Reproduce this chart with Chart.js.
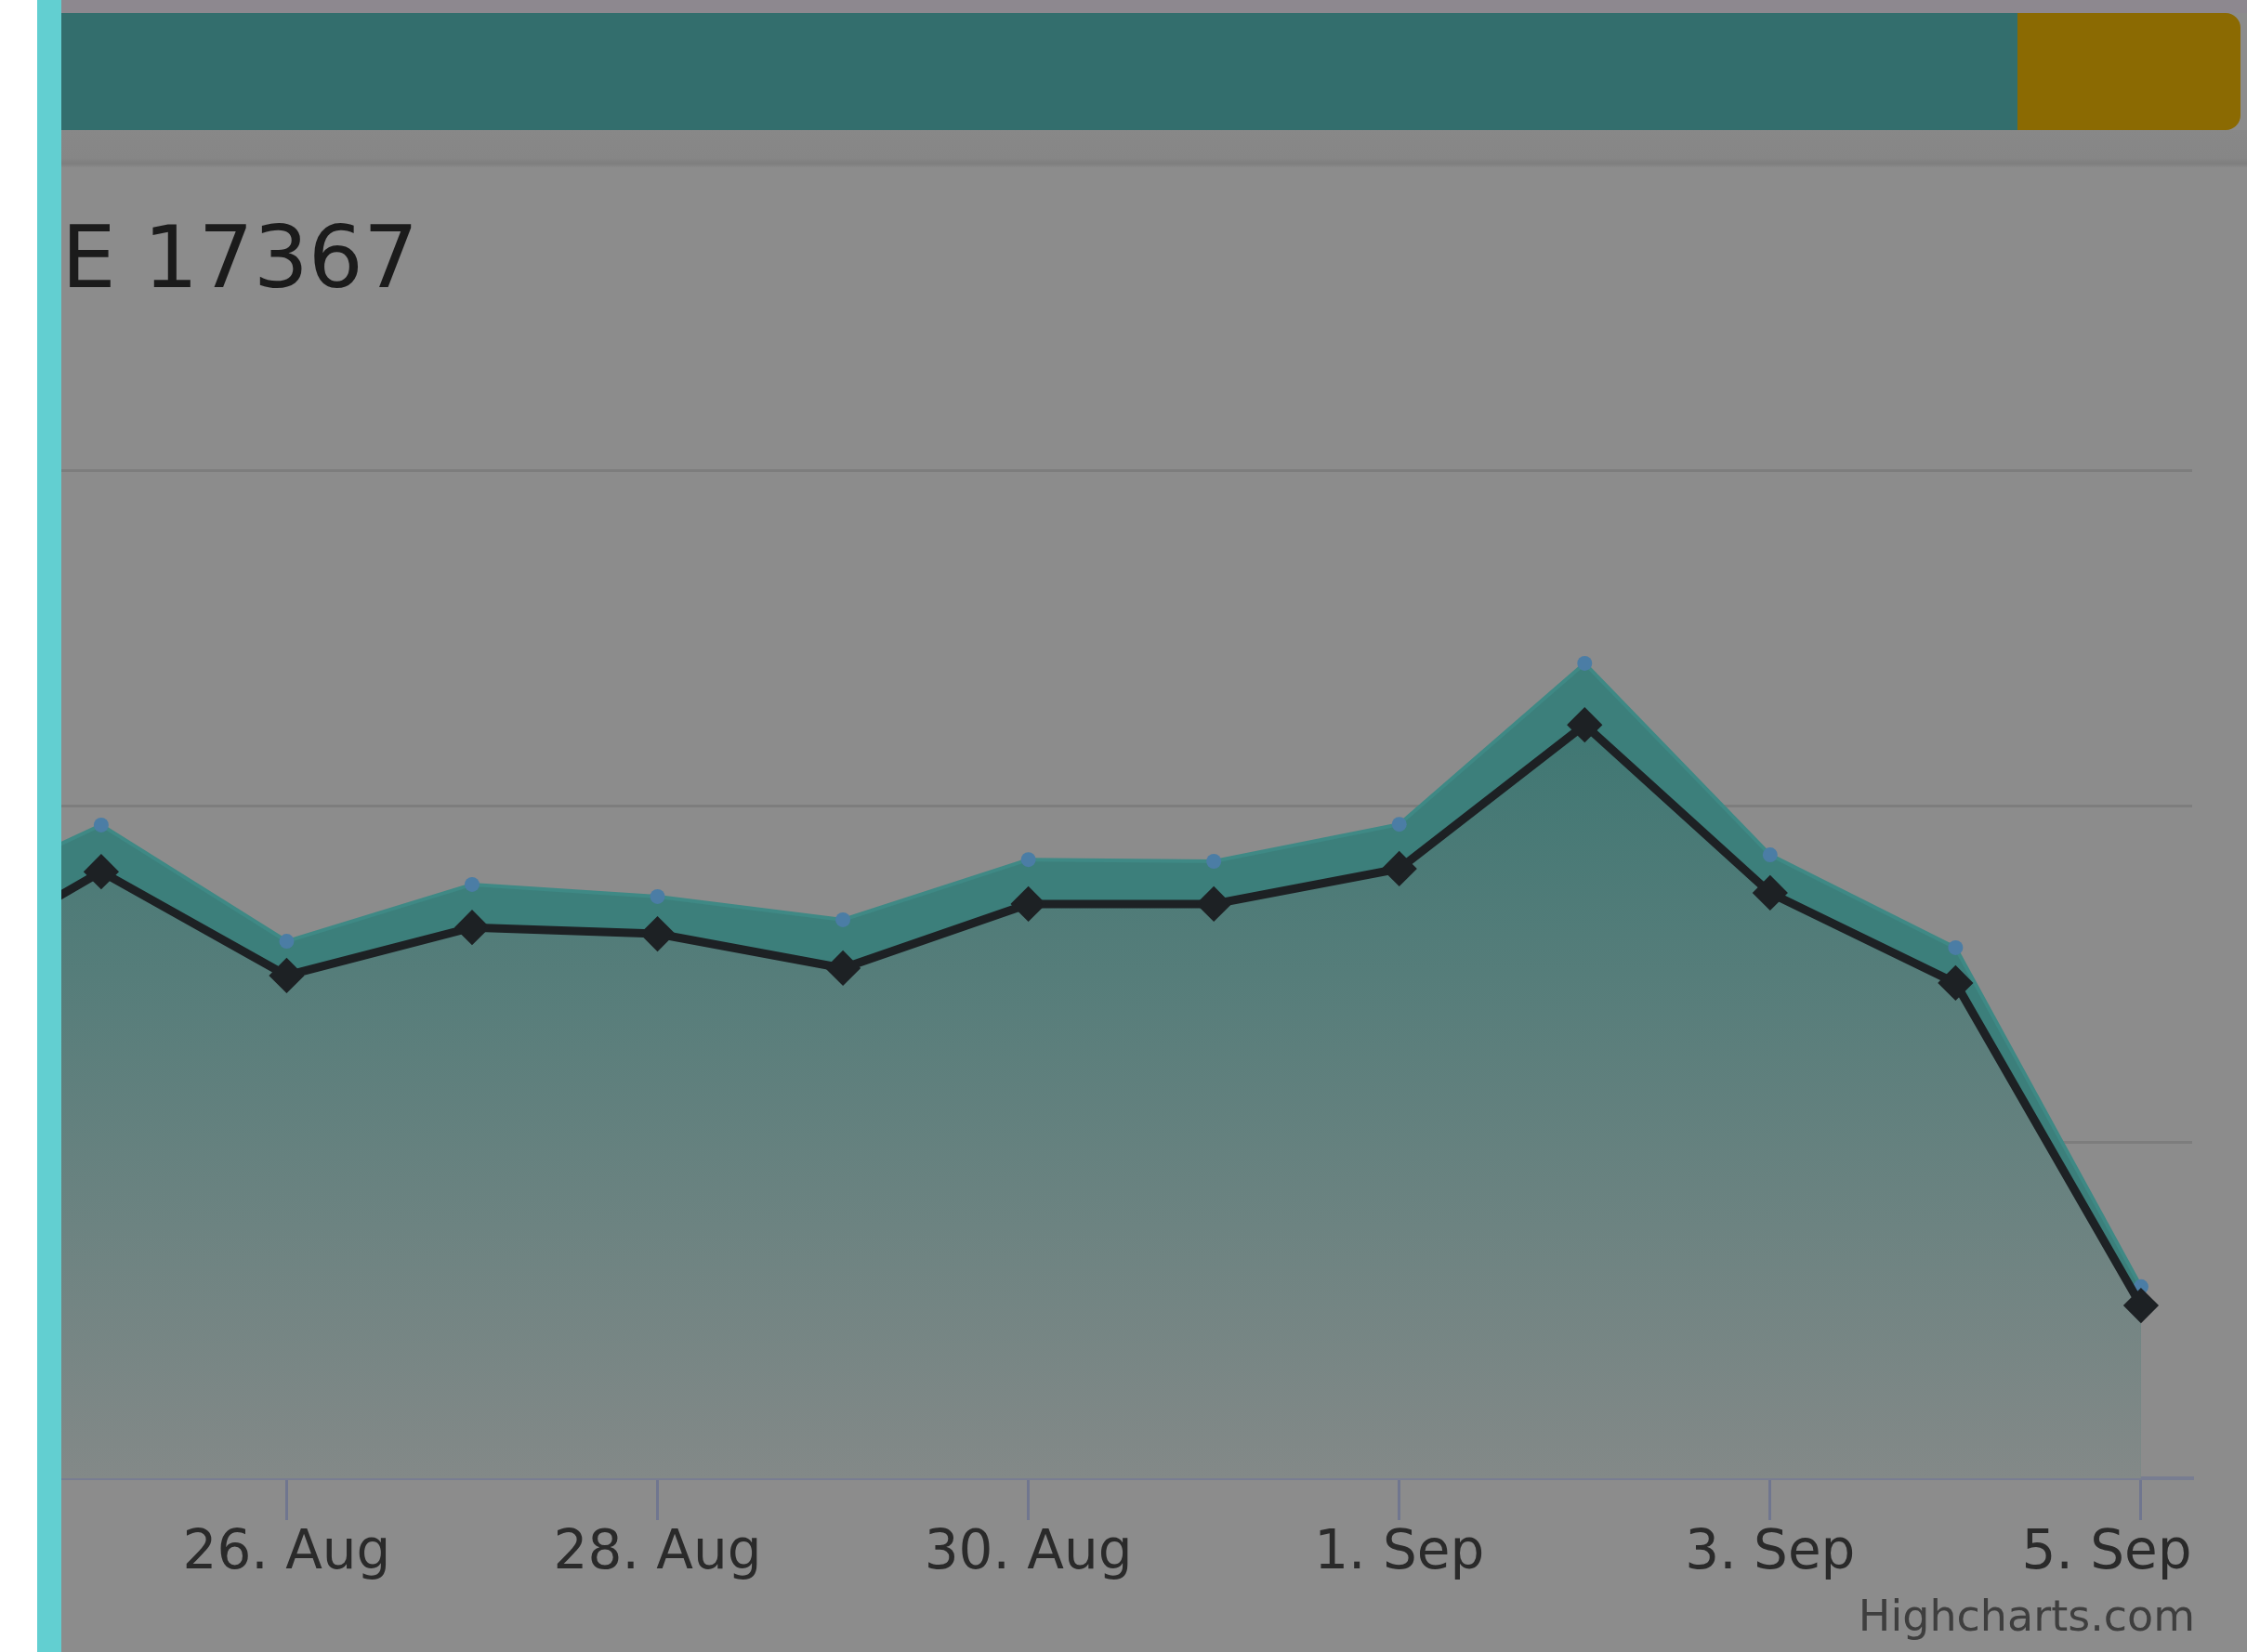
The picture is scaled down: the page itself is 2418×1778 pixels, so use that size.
<!DOCTYPE html>
<html>
<head>
<meta charset="utf-8">
<script src="https://cdn.jsdelivr.net/npm/chart.js@4.4.1/dist/chart.umd.min.js"></script>
<style>
    html, body { margin: 0; padding: 0; }
    body { width: 2418px; height: 1778px; overflow: hidden; background: #8c8c8c; position: relative; font-family: "DejaVu Sans", sans-serif; }
    .abs { position: absolute; }
    #white { left: 0; top: 0; width: 40px; height: 1778px; background: #ffffff; z-index: 5; }
    #stripe { left: 40px; top: 0; width: 26px; height: 1778px; background: #62cfd1; z-index: 5; }
    #topline { left: 66px; top: 0; width: 2352px; height: 14px; background: #8d888f; }
    #bar { left: 66px; top: 14px; width: 2105px; height: 126px; background: #336e6d; }
    #gold { left: 2171px; top: 14px; width: 240px; height: 126px; background: #8b6a02; border-radius: 0 16px 16px 0; }
    #under { left: 66px; top: 140px; width: 2352px; height: 40px; background: linear-gradient(#888888 0, #868686 75%, #7e7e7e 90%, #8a8a8a 100%); }
    #title { left: 66px; top: 231px; font-size: 93px; line-height: 93px; color: #1b1b1b; white-space: nowrap; }
    #credit { right: 56px; top: 1716px; font-size: 46px; line-height: 46px; color: #3e3e3e; white-space: nowrap; }
    #chart { left: 66px; top: 180px; }
</style>
</head>
<body>
<div id="white" class="abs"></div>
<div id="stripe" class="abs"></div>
<div id="topline" class="abs"></div>
<div id="bar" class="abs"></div>
<div id="gold" class="abs"></div>
<div id="under" class="abs"></div>
<canvas id="chart" class="abs" width="2352" height="1598"></canvas>
<div id="title" class="abs">E 17367</div>
<div id="credit" class="abs">Highcharts.com</div>
<script>
const dayLabels = ['24. Aug', '25. Aug', '26. Aug', '27. Aug', '28. Aug', '29. Aug', '30. Aug',
    '31. Aug', '1. Sep', '2. Sep', '3. Sep', '4. Sep', '5. Sep'];
const lineValues = [148.5, 180.5, 149.6, 163.9, 162.0, 151.8, 170.9, 170.9, 181.4, 224.2, 174.2, 147.4, 51.4];
const bandValues = [168.6, 194.4, 159.8, 176.7, 173.1, 166.2, 184.1, 183.6, 194.6, 242.5, 185.5, 157.9, 57.0];
const tickLabels = ['26. Aug', '28. Aug', '30. Aug', '1. Sep', '3. Sep', '5. Sep'];

function toPoints(values) {
    return values.map((v, i) => ({x: i, y: v}));
}

function areaGradient(context) {
    const chart = context.chart;
    const area = chart.chartArea;
    if (!area) {
        return 'rgba(0,0,0,0)';
    }
    const g = chart.ctx.createLinearGradient(0, area.top, 0, area.bottom);
    g.addColorStop(0, 'rgb(40,113,108)');
    g.addColorStop(1, 'rgb(131,137,136)');
    return g;
}

function setupChart() {
    const ctx = document.getElementById('chart');
    const lastIdx = dayLabels.length - 1;

    return new Chart(ctx, {
        type: 'line',
        data: {
            datasets: [{
                label: 'line',
                data: toPoints(lineValues),
                borderColor: '#1d2124',
                borderWidth: 9,
                fill: 'origin',
                backgroundColor: areaGradient,
                pointStyle: 'rectRot',
                pointRadius: 17,
                pointBackgroundColor: '#1d2124',
                pointBorderColor: '#1d2124',
                pointBorderWidth: 3
            },
                {
                    label: 'band',
                    data: toPoints(bandValues),
                    borderColor: '#3f8985',
                    borderWidth: 4,
                    fill: 'origin',
                    backgroundColor: '#3c7f7b',
                    pointStyle: 'circle',
                    pointRadius: 8,
                    pointBackgroundColor: '#4b7da5',
                    pointBorderWidth: 0
                }]
        },
        options: {
            responsive: false,
            animation: false,
            events: [],
            layout: {autoPadding: false, padding: {top: 326, right: 59, left: 0, bottom: 0}},
            plugins: {
                legend: {display: false},
                tooltip: {enabled: false}
            },
            scales: {
                x: {
                    type: 'linear',
                    min: 0.785,
                    max: 12.276,
                    afterBuildTicks: (axis) => {
                        axis.ticks = tickLabels.map((l) => ({value: dayLabels.indexOf(l)}));
                    },
                    afterFit: (axis) => {
                        axis.height = 187;
                        axis.paddingLeft = 0;
                        axis.paddingRight = 0;
                    },
                    grid: {drawOnChartArea: false, drawTicks: true, tickLength: 45, color: '#70768f', lineWidth: 3},
                    border: {display: true, color: '#787d91', width: 4},
                    ticks: {
                        autoSkip: false,
                        maxRotation: 0,
                        padding: 2,
                        color: '#2a2a2a',
                        font: {family: 'DejaVu Sans', size: 58},
                        // last label is pushed inside the plot, as in the original
                        callback: (value) => value === lastIdx ? dayLabels[value] + '\u00a0\u00a0\u00a0\u00a0' : dayLabels[value]
                    }
                },
                y: {
                    min: 0,
                    max: 300,
                    afterFit: (axis) => {
                        axis.width = 0;
                    },
                    ticks: {display: false, stepSize: 100},
                    grid: {color: '#7d7d7d', lineWidth: 3, drawTicks: false},
                    border: {display: false}
                }
            }
        }
    });
}

setupChart();
</script>
</body>
</html>
